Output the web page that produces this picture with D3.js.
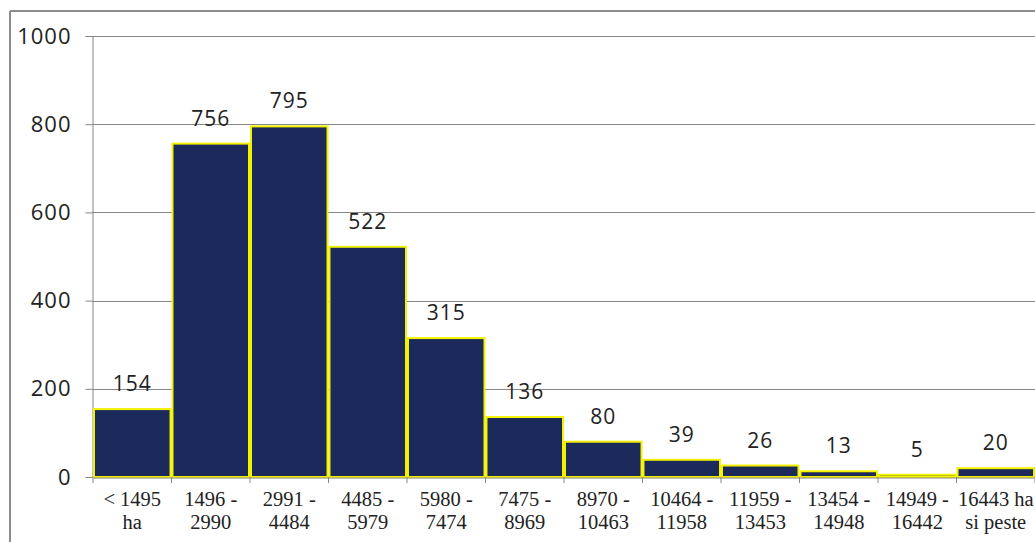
<!DOCTYPE html>
<html><head><meta charset="utf-8">
<script src="https://cdn.jsdelivr.net/npm/d3@7"></script>
<style>body{margin:0;background:#fff}svg{display:block}</style>
</head><body>
<script>
const categories = [["< 1495","ha"],["1496 -","2990"],["2991 -","4484"],["4485 -","5979"],["5980 -","7474"],["7475 -","8969"],["8970 -","10463"],["10464 -","11958"],["11959 -","13453"],["13454 -","14948"],["14949 -","16442"],["16443 ha","si peste"]];
const values = [154,756,795,522,315,136,80,39,26,13,5,20];
const yTicks = [0,200,400,600,800,1000];

(function(){
const W=1035,H=542;
const svg=d3.select("body").append("svg").attr("width",W).attr("height",H);
const mLeft=93,mRight=1035,mTop=36,mBottom=477;
const x=d3.scaleBand().domain(d3.range(values.length)).range([mLeft,mRight]).padding(0);
const y=d3.scaleLinear().domain([0,1000]).range([mBottom,mTop]);

// outer frame
svg.append("line").attr("x1",10).attr("x2",W).attr("y1",11).attr("y2",11).attr("stroke","#8c8c8c").attr("stroke-width",2);
svg.append("line").attr("x1",10).attr("x2",10).attr("y1",11).attr("y2",H).attr("stroke","#8c8c8c").attr("stroke-width",2);

// gridlines
svg.append("g").selectAll("line").data(yTicks.filter(d=>d>0)).join("line")
 .attr("x1",mLeft-1).attr("x2",W).attr("y1",d=>Math.round(y(d))+0.5).attr("y2",d=>Math.round(y(d))+0.5)
 .attr("stroke","#868686").attr("stroke-width",1);

// y axis
const ya=svg.append("g").attr("transform",`translate(${mLeft-0.5},0)`)
 .call(d3.axisLeft(y).tickValues(yTicks).tickFormat(d3.format("d")).tickSize(7).tickPadding(14));
ya.select(".domain").attr("stroke","#868686");
ya.selectAll(".tick line").attr("stroke","#868686");
ya.selectAll("text").attr("font-family","'Open Sans','Liberation Sans',sans-serif").attr("font-size",22).attr("letter-spacing",1).attr("fill","#222");

// bars
svg.append("g").selectAll("rect").data(values).join("rect")
 .attr("x",(d,i)=>x(i)+1).attr("width",x.bandwidth()-2)
 .attr("y",d=>y(d)).attr("height",d=>mBottom-y(d))
 .attr("fill","#1b2a5a").attr("stroke","#f2f200").attr("stroke-width",2);

// x axis
const xa=svg.append("g").attr("transform",`translate(0,${mBottom+0.5})`).call(d3.axisBottom(x).tickSize(0).tickFormat(""));
xa.select(".domain").attr("stroke","#868686");
const bounds=d3.range(values.length+1).map(i=>mLeft+i*x.bandwidth());
svg.append("g").selectAll("line").data(bounds).join("line")
 .attr("x1",d=>d).attr("x2",d=>d).attr("y1",mBottom).attr("y2",mBottom+6).attr("stroke","#868686");

// category labels
const cl=svg.append("g").selectAll("text").data(categories).join("text")
 .attr("x",(d,i)=>x(i)+x.bandwidth()/2).attr("y",506)
 .attr("text-anchor","middle").attr("font-family","'Liberation Serif',serif").attr("font-size",20.5).attr("fill","#222");
cl.each(function(d){
  const t=d3.select(this);
  t.append("tspan").attr("x",t.attr("x")).attr("dy",0).text(d[0]);
  t.append("tspan").attr("x",t.attr("x")).attr("dy",23).text(d[1]);
});

// value labels
svg.append("g").selectAll("text").data(values).join("text")
 .attr("x",(d,i)=>x(i)+x.bandwidth()/2).attr("y",d=>y(d)-18)
 .attr("text-anchor","middle").attr("font-family","'Open Sans','Liberation Sans',sans-serif").attr("font-size",21).attr("letter-spacing",1).attr("fill","#222")
 .text(d=>d);
})();
</script>
</body></html>
